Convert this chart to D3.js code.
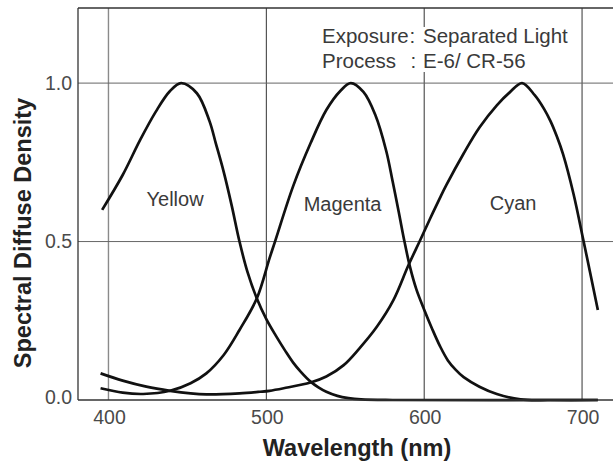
<!DOCTYPE html>
<html>
<head>
<meta charset="utf-8">
<script src="https://cdn.jsdelivr.net/npm/d3@7"></script>
<style>
  body { margin: 0; background: #fff; }
  text { font-family: "Liberation Sans", Arial, sans-serif; }
</style>
</head>
<body>
<svg id="chart" width="613" height="462"></svg>
<script>
// Spectral diffuse density curves (wavelength nm, density)
const yellow = [
  [396, 0.60], [409, 0.71], [420, 0.82], [430, 0.91], [439, 0.975], [446, 1.0],
  [456, 0.968], [464, 0.88], [468, 0.81], [473, 0.72], [478, 0.615], [483, 0.50],
  [488, 0.405], [494, 0.32], [500, 0.255], [506, 0.203], [512, 0.155], [517, 0.118],
  [522, 0.088], [528, 0.058], [533, 0.04], [538, 0.026], [545, 0.013], [552, 0.006],
  [560, 0.002], [580, 0], [710, 0]
];
const magenta = [
  [395, 0.037], [409, 0.023], [422, 0.019], [439, 0.029], [452, 0.053], [462, 0.084],
  [473, 0.142], [483, 0.221], [494, 0.321], [502, 0.447], [505.5, 0.50], [517, 0.675],
  [528, 0.81], [538, 0.915], [547, 0.976], [553.5, 1.0], [561.5, 0.972], [569, 0.9],
  [576, 0.785], [580, 0.69], [584, 0.59], [587.5, 0.50], [591, 0.42], [595, 0.35],
  [600, 0.285], [605, 0.225], [610, 0.17], [615, 0.125], [620, 0.095], [625, 0.072],
  [635, 0.042], [646, 0.019], [661, 0.002], [680, 0], [710, 0]
];
const cyan = [
  [395, 0.084], [409, 0.061], [424, 0.042], [439, 0.029], [452, 0.021], [462, 0.018],
  [483, 0.021], [496, 0.026], [502, 0.029], [511, 0.037], [528, 0.055], [538, 0.074],
  [549, 0.11], [559, 0.163], [570, 0.231], [580.5, 0.315], [590, 0.425], [597.5, 0.505],
  [604, 0.575], [610, 0.638], [614, 0.678], [625, 0.778], [635, 0.86], [646, 0.93],
  [654, 0.97], [662, 1.0], [670, 0.962], [676, 0.918], [680, 0.88], [684, 0.832],
  [688, 0.775], [694.6, 0.65], [701, 0.50], [705, 0.405], [710, 0.284]
];
const series = [
  { name: "Yellow", values: yellow, label: [442.2, 0.612] },
  { name: "Magenta", values: magenta, label: [548.3, 0.596] },
  { name: "Cyan", values: cyan, label: [656.3, 0.598] }
];
const xTicks = [400, 500, 600, 700];
const yTicks = [0, 0.5, 1.0];
const notes = [
  ["Exposure", "Separated Light"],
  ["Process", "E-6/ CR-56"]
];

const svg = d3.select("#chart");
const mLeft = 78, mRight = 613, mTop = 8, mBottom = 400;

const x = d3.scaleLinear().domain([380.7, 719.6]).range([mLeft, mRight]);
const y = d3.scaleLinear().domain([0, 1.237]).range([mBottom, mTop]);

// grid lines
svg.append("g")
  .selectAll("line")
  .data(xTicks)
  .join("line")
  .attr("x1", d => x(d)).attr("x2", d => x(d))
  .attr("y1", mTop).attr("y2", mBottom)
  .attr("stroke", d => d === 400 ? "#8a8a8a" : "#333")
  .attr("stroke-width", d => d === 400 ? 1.4 : 1);

svg.append("g")
  .selectAll("line")
  .data(yTicks.filter(d => d > 0))
  .join("line")
  .attr("x1", mLeft).attr("x2", mRight)
  .attr("y1", d => y(d)).attr("y2", d => y(d))
  .attr("stroke", "#666")
  .attr("stroke-width", 1);

// frame: top and left
svg.append("line").attr("x1", mLeft).attr("x2", mRight).attr("y1", mTop).attr("y2", mTop)
  .attr("stroke", "#333").attr("stroke-width", 1.3);
svg.append("line").attr("x1", mLeft).attr("x2", mLeft).attr("y1", mTop).attr("y2", mBottom)
  .attr("stroke", "#333").attr("stroke-width", 1.3);

// tick labels
svg.append("g")
  .selectAll("text")
  .data(xTicks)
  .join("text")
  .attr("x", d => x(d) + 1)
  .attr("y", 424)
  .attr("text-anchor", "middle")
  .attr("font-size", 19.5)
  .attr("fill", "#4a4a4a")
  .text(d => d);

svg.append("g")
  .selectAll("text")
  .data(yTicks)
  .join("text")
  .attr("x", 72)
  .attr("y", d => y(d) - (d === 0 ? 3 : 0))
  .attr("dy", "0.35em")
  .attr("text-anchor", "end")
  .attr("font-size", 19.5)
  .attr("fill", "#4a4a4a")
  .text(d => d.toFixed(1));

// annotation box
svg.append("rect").attr("x", 318).attr("y", 27).attr("width", 254).attr("height", 45).attr("fill", "#fff");
const note = svg.append("g").attr("font-size", 20.5).attr("fill", "#3a3a3a");
notes.forEach((n, i) => {
  const by = 43 + i * 25;
  note.append("text").attr("x", 322).attr("y", by).text(n[0]);
  note.append("text").attr("x", i === 0 ? 409.5 : 410.5).attr("y", by).text(":");
  note.append("text").attr("x", 423).attr("y", by).text(n[1]);
});

// curves
const line = d3.line()
  .x(d => x(d[0]))
  .y(d => y(d[1]))
  .curve(d3.curveCatmullRom.alpha(0.5));

svg.append("g")
  .selectAll("path")
  .data(series)
  .join("path")
  .attr("d", d => line(d.values))
  .attr("fill", "none")
  .attr("stroke", "#111")
  .attr("stroke-width", 2.7)
  .attr("stroke-linejoin", "round");

// bottom axis line
svg.append("line").attr("x1", mLeft).attr("x2", mRight).attr("y1", mBottom).attr("y2", mBottom)
  .attr("stroke", "#333").attr("stroke-width", 1.5);

// series labels
svg.append("g")
  .selectAll("text")
  .data(series)
  .join("text")
  .attr("x", d => x(d.label[0]))
  .attr("y", d => y(d.label[1]))
  .attr("text-anchor", "middle")
  .attr("font-size", 20)
  .attr("fill", "#3a3a3a")
  .text(d => d.name);

// axis titles
svg.append("text")
  .attr("x", 357)
  .attr("y", 456)
  .attr("text-anchor", "middle")
  .attr("font-size", 23.5)
  .attr("font-weight", "bold")
  .attr("fill", "#222")
  .text("Wavelength (nm)");

svg.append("text")
  .attr("transform", "translate(31,233) rotate(-90)")
  .attr("text-anchor", "middle")
  .attr("font-size", 23.5)
  .attr("font-weight", "bold")
  .attr("fill", "#222")
  .text("Spectral Diffuse Density");
</script>
</body>
</html>
